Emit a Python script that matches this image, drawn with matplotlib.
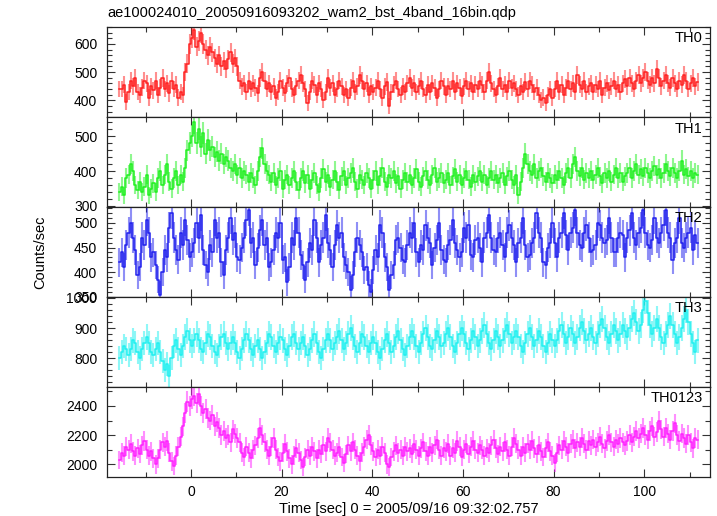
import numpy as np
import matplotlib
matplotlib.use("Agg")
import matplotlib.pyplot as plt
from matplotlib.ticker import MultipleLocator

plt.rcParams['font.family'] = ['Liberation Sans', 'DejaVu Sans']

title = "ae100024010_20050916093202_wam2_bst_4band_16bin.qdp"
xlabel = "Time [sec] 0 = 2005/09/16 09:32:02.757"
ylabel = "Counts/sec"
bands = ["TH0", "TH1", "TH2", "TH3", "TH0123"]
t_start = -16.0
bin_width = 0.5

th0 = [
    440, 440, 455, 395, 430, 470, 450, 480, 430, 420, 445, 470, 460, 410, 450, 435,
    470, 420, 445, 480, 440, 460, 425, 470, 440, 455, 410, 430, 420, 500, 530, 600,
    620, 650, 590, 610, 640, 600, 580, 560, 590, 570, 550, 530, 560, 520, 540, 510,
    545, 570, 530, 550, 520, 470, 450, 460, 430, 470, 440, 460, 445, 425, 480, 500,
    470, 440, 460, 430, 450, 410, 430, 470, 445, 425, 460, 480, 440, 420, 450, 470,
    490, 460, 440, 390, 430, 470, 455, 420, 460, 440, 400, 430, 480, 445, 460, 420,
    440, 470, 450, 420, 440, 410, 445, 470, 430, 450, 490, 470, 440, 460, 420, 450,
    430, 445, 470, 440, 410, 450, 465, 380, 430, 455, 470, 440, 420, 450, 430, 460,
    480, 445, 460, 430, 450, 470, 440, 420, 455, 430, 460, 445, 410, 440, 470, 450,
    420, 450, 440, 470, 430, 460, 445, 415, 450, 470, 440, 460, 430, 455, 440, 470,
    455, 430, 470, 500, 460, 440, 420, 450, 480, 440, 455, 430, 470, 445, 460, 440,
    420, 450, 430, 465, 440, 470, 455, 430, 445, 420, 400, 410, 390, 420, 440, 410,
    440, 470, 430, 455, 420, 445, 470, 440, 460, 430, 490, 455, 440, 470, 430, 450,
    460, 430, 455, 440, 470, 420, 445, 460, 435, 450, 470, 440, 455, 430, 460, 475,
    450, 480, 460, 440, 470, 490, 460, 480, 500, 470, 455, 480, 460, 510, 480, 450,
    470, 490, 460, 445, 480, 460, 440, 470, 455, 490, 470, 440, 460, 480, 450, 465,
]

th1 = [
    340, 355, 330, 380, 390, 420, 400, 360, 345, 370, 340, 355, 390, 330, 350, 365,
    340, 380, 400, 360, 390, 420, 370, 350, 380, 400, 360, 390, 370, 410, 460, 480,
    500, 540, 480, 520, 470, 510, 450, 490, 460, 470, 440, 455, 430, 450, 420, 440,
    430, 410, 400, 420, 390, 410, 380, 400, 390, 370, 395, 380, 360, 400, 440, 465,
    420, 400, 390, 370, 395, 360, 380, 400, 350, 375, 390, 360, 380, 400, 370, 345,
    380, 400, 365, 390, 350, 375, 395, 360, 340, 380, 405, 370, 390, 355, 375, 400,
    370, 345, 385, 400, 360, 380, 395, 410, 370, 350, 390, 375, 360, 395, 380, 350,
    375, 400, 360, 385, 410, 370, 355, 390, 380, 400, 365, 385, 350, 375, 395, 370,
    390, 360, 380, 405, 370, 355, 385, 400, 375, 360, 390, 410, 370, 380, 395, 365,
    375, 395, 360, 385, 405, 370, 390, 360, 380, 400, 375, 355, 390, 370, 385, 400,
    370, 390, 360, 380, 400, 375, 390, 365, 380, 395, 360, 385, 400, 375, 360, 390,
    330, 370, 410, 450, 420, 400, 390, 420, 380, 400, 410, 385, 370, 395, 380, 365,
    390, 375, 400, 380, 360, 395, 410, 380, 420, 440, 400, 385, 410, 375, 395, 380,
    400, 375, 390, 410, 385, 365, 395, 380, 400, 370, 390, 410, 380, 395, 370, 385,
    395, 410, 380, 400, 420, 390, 405, 385, 410, 395, 380, 400, 415, 390, 405, 380,
    395, 420, 400, 385, 410, 395, 380, 400, 430, 390, 405, 385, 400, 380, 395, 390,
]

th2 = [
    420, 440, 410, 455, 480, 500, 470, 445, 395, 410, 470, 455, 505, 480, 430, 440,
    415, 385, 355, 400, 445, 430, 490, 520, 470, 445, 425, 480, 455, 505, 465, 430,
    440, 460, 500, 470, 515, 445, 415, 400, 455, 440, 505, 470, 480, 420, 395, 445,
    470, 510, 465, 480, 430, 425, 450, 470, 505, 525, 460, 470, 415, 450, 485, 505,
    455, 470, 410, 420, 445, 480, 470, 500, 425, 430, 380, 410, 470, 455, 510, 480,
    435, 415, 385, 420, 460, 445, 505, 470, 420, 455, 470, 515, 460, 445, 410, 455,
    495, 470, 480, 430, 415, 400, 365, 395, 440, 470, 455, 440, 405, 410, 375, 360,
    405, 445, 430, 495, 480, 430, 410, 365, 395, 415, 465, 470, 450, 425, 420, 455,
    480, 470, 500, 440, 420, 455, 445, 495, 470, 460, 415, 450, 465, 500, 445, 425,
    420, 455, 465, 505, 460, 445, 430, 440, 490, 470, 495, 435, 430, 465, 470, 450,
    420, 470, 480, 515, 470, 445, 440, 470, 480, 455, 430, 480, 495, 470, 455, 420,
    460, 470, 510, 455, 430, 435, 460, 470, 520, 480, 470, 420, 415, 450, 460, 500,
    460, 430, 470, 480, 520, 475, 445, 480, 490, 525, 480, 455, 450, 480, 495, 470,
    440, 445, 455, 500, 495, 470, 460, 465, 510, 470, 440, 440, 470, 480, 475, 430,
    470, 485, 520, 470, 455, 480, 490, 525, 480, 455, 450, 465, 510, 470, 460, 480,
    495, 525, 480, 470, 425, 460, 470, 510, 460, 450, 470, 480, 490, 445, 475, 460,
]

th3 = [
    800, 820, 840, 830, 810, 830, 860, 850, 820, 800, 830, 850, 870, 850, 820, 810,
    830, 850, 820, 790, 760, 780, 740, 800, 840, 860, 830, 810, 840, 870, 890, 860,
    840, 860, 880, 860, 830, 820, 850, 880, 870, 840, 820, 810, 840, 870, 880, 850,
    830, 850, 870, 850, 820, 800, 830, 860, 880, 860, 830, 810, 840, 860, 830, 800,
    820, 850, 880, 870, 840, 820, 850, 870, 860, 830, 810, 840, 870, 880, 850, 830,
    850, 870, 840, 810, 830, 860, 880, 850, 820, 800, 830, 860, 880, 860, 830, 850,
    870, 890, 860, 830, 850, 880, 900, 870, 840, 820, 850, 880, 870, 840, 820, 850,
    870, 850, 820, 800, 830, 860, 880, 850, 820, 840, 870, 890, 860, 830, 810, 840,
    870, 890, 870, 840, 820, 850, 880, 900, 870, 840, 830, 860, 890, 870, 840, 850,
    880, 900, 870, 840, 820, 850, 880, 900, 880, 850, 830, 860, 890, 870, 840, 860,
    890, 910, 880, 850, 830, 860, 890, 870, 840, 860, 890, 910, 880, 850, 870, 890,
    870, 840, 820, 850, 880, 900, 870, 840, 860, 890, 870, 840, 820, 850, 880, 860,
    840, 860, 890, 910, 880, 850, 870, 900, 880, 850, 870, 900, 920, 890, 860, 880,
    900, 870, 850, 880, 910, 930, 900, 870, 850, 880, 910, 890, 860, 880, 910, 890,
    870, 900, 930, 950, 920, 890, 910, 960, 990, 950, 910, 880, 900, 930, 900, 870,
    850, 880, 910, 940, 910, 880, 850, 870, 900, 930, 960, 920, 880, 850, 820, 860,
]

th0123 = [
    2030, 2080, 2060, 2120, 2100, 2140, 2090, 2060, 2110, 2070, 2130, 2160, 2100, 2060, 2090, 2040,
    2000, 2040, 2100, 2150, 2120, 2160, 2080, 2020, 1990, 2060, 2120, 2190, 2260, 2350, 2430, 2400,
    2450, 2470, 2420, 2480, 2400, 2350, 2380, 2320, 2300, 2340, 2260, 2290, 2250, 2200, 2230, 2180,
    2200, 2150, 2240, 2210, 2180, 2150, 2080, 2050, 2120, 2080, 2040, 2100, 2130, 2180, 2250, 2200,
    2150, 2100, 2060, 2120, 2180, 2100, 2050, 2020, 2080, 2140, 2090, 2040, 2000, 2060, 2110, 2080,
    2030, 1980, 2050, 2100, 2060, 2120, 2090, 2040, 2100, 2070, 2130, 2090, 2180, 2150, 2100, 2060,
    2080, 2120, 2050, 2010, 2070, 2130, 2090, 2150, 2100, 2060, 2020, 2080, 2120, 2170, 2200, 2130,
    2090, 2050, 2100, 2060, 2120, 2080, 2000, 1980, 2050, 2090, 2130, 2080, 2100, 2060, 2120, 2090,
    2110, 2070, 2140, 2100, 2060, 2110, 2150, 2090, 2060, 2120, 2080, 2130, 2170, 2100, 2060, 2110,
    2090, 2140, 2060, 2110, 2080, 2160, 2120, 2050, 2100, 2140, 2070, 2120, 2160, 2100, 2080, 2130,
    2100, 2060, 2110, 2080, 2130, 2170, 2110, 2070, 2120, 2090, 2150, 2100, 2060, 2120, 2180, 2140,
    2100, 2060, 2120, 2080, 2140, 2100, 2160, 2110, 2070, 2130, 2090, 2050, 2110, 2150, 2090, 2060,
    2010, 2080, 2130, 2100, 2160, 2120, 2080, 2140, 2170, 2110, 2150, 2120, 2180, 2140, 2100, 2160,
    2130, 2170, 2120, 2150, 2190, 2140, 2110, 2160, 2200, 2150, 2120, 2170, 2140, 2180, 2150, 2130,
    2160, 2200, 2150, 2190, 2230, 2180, 2210, 2250, 2200, 2170, 2230, 2260, 2190, 2220, 2300, 2240,
    2190, 2250, 2210, 2170, 2230, 2280, 2200, 2160, 2210, 2180, 2140, 2200, 2150, 2110, 2180, 2170,
]

series = [th0, th1, th2, th3, th0123]
colors = ["#ff2020", "#20f020", "#2020ee", "#20f0f0", "#ff20ff"]
ylims = [(341, 660), (297, 555), (350, 532), (704, 1003), (1913, 2530)]
ymajor = [100, 100, 50, 100, 200]
yminor = [20, 20, 10, 20, 100]
xlim = (-18.5, 114.5)

W, H = 717, 516
fig = plt.figure(figsize=(W / 100, H / 100), dpi=100)
left, right = 107 / W, 710 / W
top_px, panel_h = 27, 90

axes = []
for i in range(5):
    b = 1 - (top_px + panel_h * (i + 1)) / H
    ax = fig.add_axes([left, b, right - left, panel_h / H])
    axes.append(ax)

for i, ax in enumerate(axes):
    y = np.array(series[i], dtype=float)
    n = len(y)
    t = t_start + bin_width * (np.arange(n) + 0.5)
    err = np.sqrt(y / bin_width)
    ax.errorbar(t, y, yerr=err, fmt='none', ecolor=colors[i], elinewidth=1.5,
                alpha=0.5, capsize=0)
    ax.step(t, y, where='mid', color=colors[i], lw=1.1)
    ax.set_xlim(*xlim)
    ax.set_ylim(*ylims[i])
    ax.xaxis.set_major_locator(MultipleLocator(20))
    ax.xaxis.set_minor_locator(MultipleLocator(10))
    ax.yaxis.set_major_locator(MultipleLocator(ymajor[i]))
    ax.yaxis.set_minor_locator(MultipleLocator(yminor[i]))
    ax.tick_params(which='both', direction='in', top=True, right=True,
                   labelsize=10, width=0.8, color='#333333')
    ax.tick_params(which='major', length=6)
    ax.tick_params(which='minor', length=3.5)
    ax.tick_params(axis='y', pad=7)
    ax.tick_params(axis='x', pad=6)
    for s in ax.spines.values():
        s.set_linewidth(0.9)
        s.set_color('#222222')
    if i < 4:
        ax.tick_params(axis='x', labelbottom=False)
    ax.text(0.988, 0.95, bands[i], transform=ax.transAxes, ha='right', va='top',
            fontsize=10.5, zorder=5)

axes[-1].set_xlabel(xlabel, fontsize=10.5, labelpad=2)
fig.text(107 / W, 1 - 13 / H, title, ha='left', va='center', fontsize=10.5)
fig.text(40 / W, 1 - 252 / H, ylabel, rotation=90, ha='center', va='center',
         fontsize=10.5)

fig.savefig("out.png", dpi=100)
